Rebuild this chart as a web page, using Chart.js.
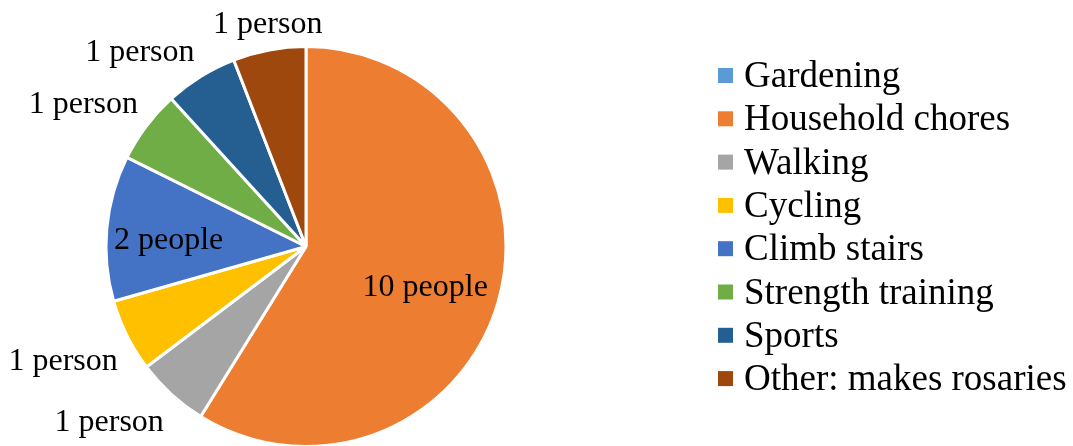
<!DOCTYPE html>
<html>
<head>
<meta charset="utf-8">
<script src="https://cdn.jsdelivr.net/npm/chart.js@4.4.1/dist/chart.umd.min.js"></script>
<style>
  html, body { margin: 0; padding: 0; background: #fff; }
  #wrap { position: relative; width: 1073px; height: 446px; }
</style>
</head>
<body>
<div id="wrap"><canvas id="c" width="1073" height="446"></canvas></div>
<script>
// data
var categories = ['Gardening', 'Household chores', 'Walking', 'Cycling', 'Climb stairs',
                  'Strength training', 'Sports', 'Other: makes rosaries'];
var people = [0, 10, 1, 1, 2, 1, 1, 1];
var colors = ['#5B9BD5', '#ED7D31', '#A5A5A5', '#FFC000', '#4472C4', '#70AD47', '#255E91', '#9E480E'];

var SERIF = '"Liberation Serif", "Times New Roman", serif';

function labelText(v) {
  return v === 1 ? v + ' person' : v + ' people';
}

function ramp(d, lo, span) {
  return Math.sign(d) * Math.min(1, Math.max(0, (Math.abs(d) - lo) / span));
}

// Excel-like data labels: big slices inside, small ones outside end
var dataLabels = {
  id: 'dataLabels',
  afterDatasetsDraw: function(chart) {
    var ctx = chart.ctx;
    var meta = chart.getDatasetMeta(0);
    ctx.save();
    ctx.font = '32px ' + SERIF;
    ctx.fillStyle = '#000';
    ctx.textAlign = 'center';
    ctx.textBaseline = 'middle';
    meta.data.forEach(function(arc, i) {
      var v = people[i];
      if (!v) return;
      var p = arc.getProps(['x', 'y', 'startAngle', 'endAngle', 'outerRadius'], true);
      var mid = (p.startAngle + p.endAngle) / 2;
      var dx = Math.cos(mid), dy = Math.sin(mid);
      var txt = labelText(v);
      var cx, cy;
      if (v >= 2) {
        // big slices: label inside
        var k = (p.endAngle - p.startAngle) > Math.PI ? 0.62 : 0.69;
        cx = p.x + dx * p.outerRadius * k;
        cy = p.y + dy * p.outerRadius * k + 7;
      } else {
        // small slices: label just outside the rim
        var gap = 8;
        var w = ctx.measureText(txt).width + 4;
        var fx = ramp(dx, 0.2, 0.3);
        var fy = ramp(dy, 0.15, 0.25);
        var h = fy > 0 ? 44 : 34;
        cx = p.x + dx * (p.outerRadius + gap) + fx * w / 2;
        cy = p.y + dy * (p.outerRadius + gap) + fy * h / 2;
      }
      ctx.fillText(txt, cx, cy);
    });
    ctx.restore();
  }
};

// legend on the right, one item per line
var sideLegend = {
  id: 'sideLegend',
  afterDraw: function(chart) {
    var ctx = chart.ctx;
    ctx.save();
    ctx.font = '37px ' + SERIF;
    ctx.textAlign = 'left';
    ctx.textBaseline = 'alphabetic';
    categories.forEach(function(name, i) {
      var base = 87 + i * 43.3;
      ctx.fillStyle = colors[i];
      ctx.fillRect(718, base - 19, 15, 15);
      ctx.fillStyle = '#000';
      ctx.fillText(name, 744, base);
    });
    ctx.restore();
  }
};

new Chart(document.getElementById('c'), {
  type: 'pie',
  data: {
    labels: categories,
    datasets: [{
      data: people,
      backgroundColor: colors,
      borderColor: '#ffffff',
      borderWidth: 3,
      hoverOffset: 0,
      radius: 200
    }]
  },
  options: {
    responsive: false,
    animation: false,
    layout: { padding: { left: 106, right: 567, top: 47, bottom: 0 } },
    plugins: {
      legend: { display: false },
      tooltip: { enabled: false }
    }
  },
  plugins: [dataLabels, sideLegend]
});
</script>
</body>
</html>
